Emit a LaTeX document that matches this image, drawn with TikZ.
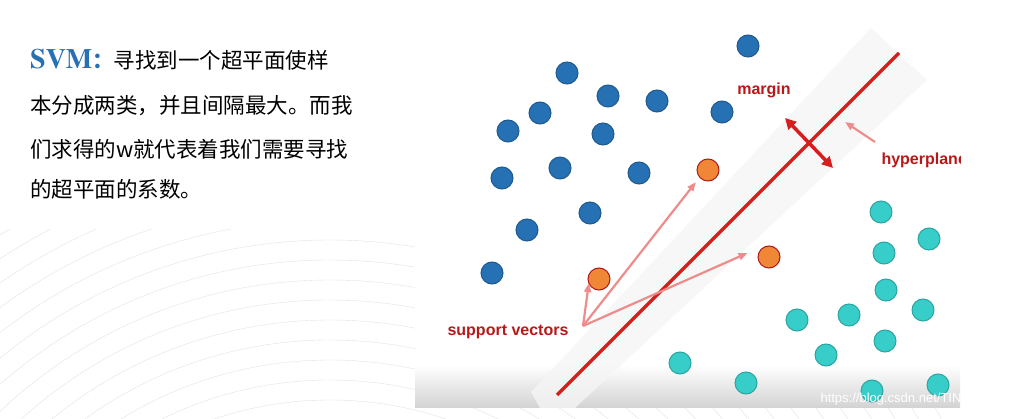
\documentclass[tikz,border=0pt]{standalone}
\usepackage{fontspec}
\setsansfont{Liberation Sans}
\newfontfamily\cjk{Noto Sans CJK SC}
\usetikzlibrary{arrows.meta}
\definecolor{dblue}{RGB}{38,112,180}
\definecolor{dorange}{RGB}{240,135,55}
\definecolor{dteal}{RGB}{55,205,200}
\definecolor{dred}{RGB}{215,30,30}
\definecolor{lred}{RGB}{238,140,140}
\tikzset{
 bdot/.style={circle,fill=dblue,draw=dblue!80!black,line width=1pt,minimum size=22pt,inner sep=0pt},
 odot/.style={circle,fill=dorange,draw=dred!80!black,line width=1pt,minimum size=22pt,inner sep=0pt},
 tdot/.style={circle,fill=dteal,draw=dteal!80!black,line width=1pt,minimum size=22pt,inner sep=0pt},
 lab/.style={font=\sffamily\bfseries\fontsize{16}{18}\selectfont,text=dred!85!black},
 zh/.style={font=\cjk\fontsize{21.5}{24}\selectfont,anchor=west,inner sep=0pt},
 parrow/.style={-{Triangle[length=9pt,width=7pt]},lred,line width=2.2pt}
}
\begin{document}
\begin{tikzpicture}[x=1pt,y=-1pt]
\useasboundingbox (0,0) rectangle (1012,419);
\fill[white] (0,0) rectangle (1012,419);
\begin{scope}
\clip (0,230) rectangle (1012,419);
\foreach \r in {300,320,...,700}
  \draw[gray!22] (330,760) circle (\r);
\end{scope}
\fill[white] (415,12) rectangle (960,408);
\shade[top color=white,bottom color=gray!35] (415,365) rectangle (960,408);
\begin{scope}
\clip (415,12) rectangle (960,408);
\fill[gray!8,opacity=0.8] (531,392) -- (871,28) -- (927,80) -- (575,408) -- (540,408) -- cycle;
\draw[dred,line width=3.5pt] (557,395) coordinate (l1) -- (899,53) coordinate (l2);
\foreach \x/\y [count=\i] in {748/46,567/73,608/96,657/101,540/113,722/112,508/131,603/134,502/178,560/168,639/173,590/213,527/230,492/273}
  \node[bdot] (b\i) at (\x,\y) {};
\foreach \x/\y [count=\i] in {708/170,599/279,769/257}
  \node[odot] (o\i) at (\x,\y) {};
\foreach \x/\y [count=\i] in {881/212,929/239,884/253,886/290,923/310,849/315,797/320,885/341,826/355,680/363,746/383,872/391,938/385}
  \node[tdot] (t\i) at (\x,\y) {};
\node[lab] (sv) at (508,332) {support vectors};
\coordinate (sa) at (583,326);
\draw[parrow] (sa) -- ([shift={(-2pt,4pt)}]o2.south west);
\draw[parrow] (sa) -- ([shift={(-4pt,-4pt)}]o1.south west);
\draw[parrow] (sa) -- ([shift={(-10pt,4pt)}]o3.west);
\node[lab] (mg) at (764,90) {margin};
\draw[{Triangle[length=11pt,width=11pt]}-{Triangle[length=11pt,width=11pt]},dred,line width=3.5pt] (785,118) -- (833,168);
\node[lab,anchor=west] (hp) at (878,160) {hyperplane};
\draw[parrow] (875,142) -- (845,122);
\node[font=\sffamily\fontsize{13}{15}\selectfont,text=white,anchor=east] (wm) at (1004,399) {https://blog.csdn.net/TING0006};
\end{scope}
\node[zh] (t1) at (30,60) {{\fontspec{TeX Gyre Termes}\bfseries\fontsize{28}{30}\selectfont\color{dblue}SVM}{\color{dblue}\bfseries ：}寻找到一个超平面使样};
\node[zh] (t2) at (30,106) {本分成两类，并且间隔最大。而我};
\node[zh] (t3) at (30,149) {们求得的w就代表着我们需要寻找};
\node[zh] (t4) at (30,189) {的超平面的系数。};
\end{tikzpicture}
\end{document}
